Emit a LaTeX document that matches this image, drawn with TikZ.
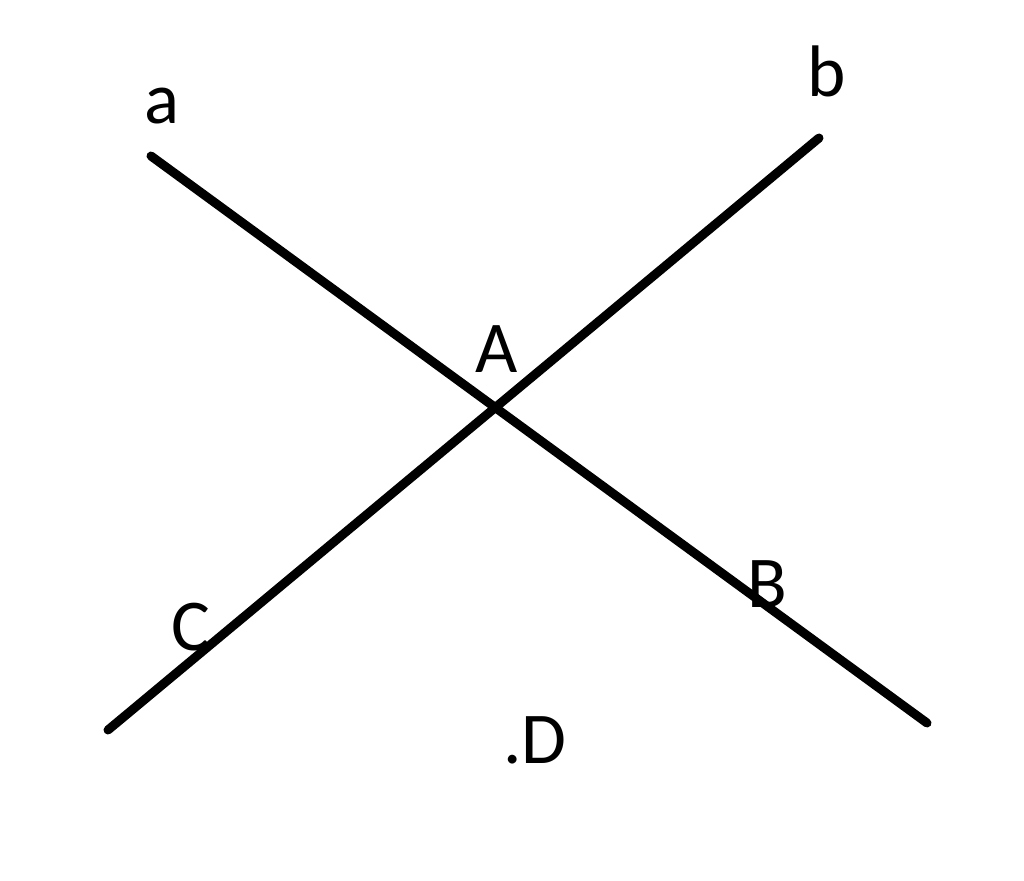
\documentclass[tikz,border=0pt]{standalone}
\usepackage{fontspec}
\setmainfont{Carlito}
\begin{document}
\begin{tikzpicture}[x=1pt,y=-1pt,
  ln/.style={line width=9pt,line cap=round,black},
  lbl/.style={anchor=base,inner sep=0pt,font=\fontsize{73}{80}\selectfont}]
\useasboundingbox[fill=white] (0,0) rectangle (1024,880);
\coordinate (a1) at (151,156);
\coordinate (a2) at (927,723);
\coordinate (b1) at (819,138);
\coordinate (b2) at (108,730);
\draw[ln] (a1) -- (a2);
\draw[ln] (b1) -- (b2);
\node[lbl] (la) at (162,123) {a};
\node[lbl] (lb) at (827,97) {b};
\node[lbl] (lA) at (497,372) {A};
\node[lbl] (lB) at (767,607) {B};
\node[lbl] (lC) at (191,650) {C};
\node[lbl] (lD) at (535,763) {.D};
\end{tikzpicture}
\end{document}
